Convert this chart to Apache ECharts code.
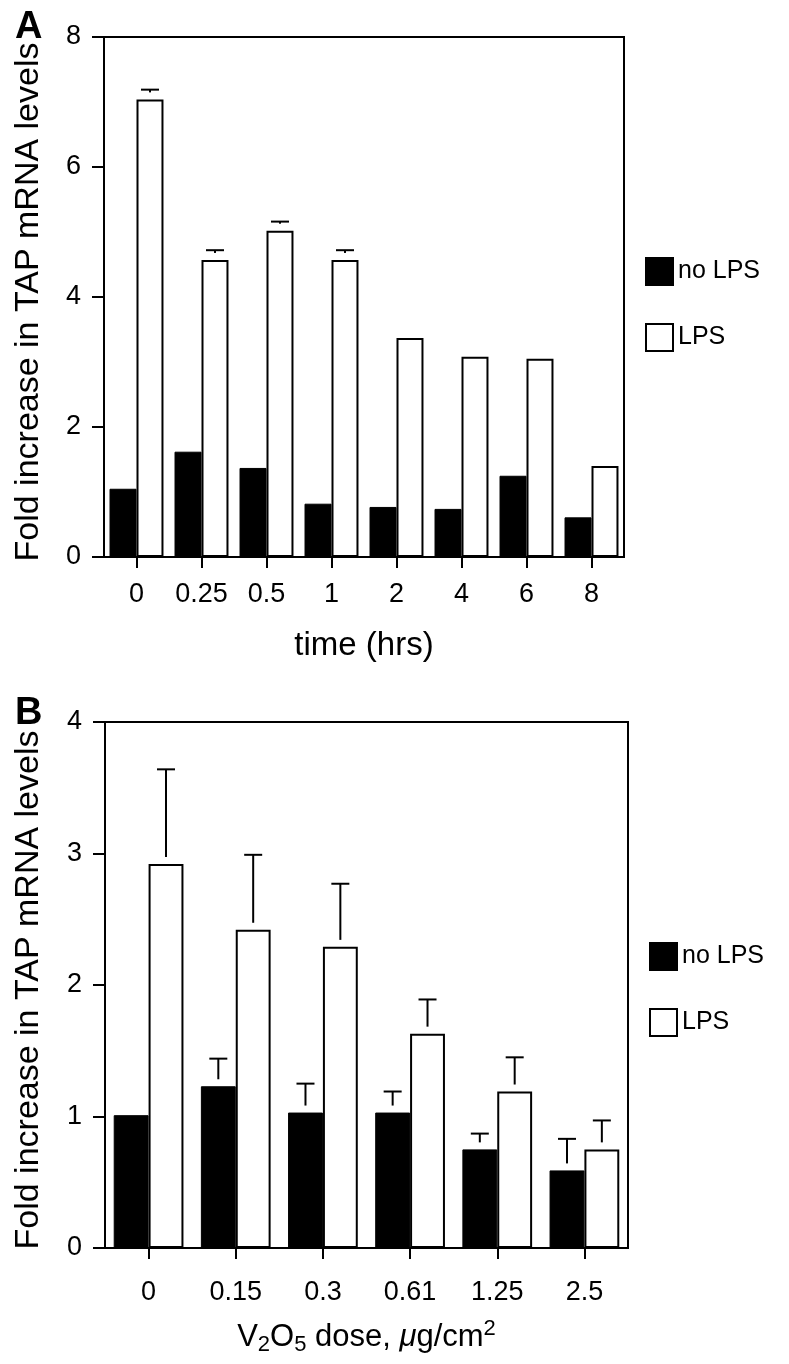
<!DOCTYPE html>
<html>
<head>
<meta charset="utf-8">
<script src="https://cdn.jsdelivr.net/npm/echarts@6/dist/echarts.min.js"></script>
<style>
html,body{margin:0;padding:0;background:#fff;}
#chart{width:789px;height:1364px;}
</style>
</head>
<body>
<div id="chart"></div>
<script>
// ---- Data ----
const catsA = ['0', '0.25', '0.5', '1', '2', '4', '6', '8'];
const noLpsA = [1.05, 1.62, 1.37, 0.82, 0.77, 0.74, 1.25, 0.61];
const lpsA = [7.04, 4.57, 5.02, 4.57, 3.37, 3.08, 3.05, 1.40];
const lpsErrA = [0.15, 0.15, 0.14, 0.15, null, null, null, null];

const catsB = ['0', '0.15', '0.3', '0.61', '1.25', '2.5'];
const noLpsB = [1.01, 1.23, 1.03, 1.03, 0.75, 0.59];
const noLpsErrB = [null, 0.21, 0.22, 0.16, 0.12, 0.24];
const lpsB = [2.92, 2.42, 2.29, 1.63, 1.19, 0.75];
const lpsErrB = [0.72, 0.57, 0.48, 0.26, 0.26, 0.22];

const yTicksA = {min: 0, max: 8, interval: 2};
const yTicksB = {min: 0, max: 4, interval: 1};
const yTitle = 'Fold increase in TAP mRNA levels';

// ---- Helpers ----
const FONT = "'Liberation Sans', Arial, Helvetica, sans-serif";
const gapA = 0.17, gapB = 0.20;

function errData(vals, errs) {
  return vals.map((v, i) => [i, v, errs[i] == null ? 0 : errs[i]]);
}
function errRenderer(gap, side) {
  return function (params, api) {
    const idx = api.value(0), v = api.value(1), e = api.value(2);
    if (!e) return null;
    const base = api.coord([idx, v]);
    const top = api.coord([idx, v + e]);
    const band = api.size([1, 0])[0];
    const bw = band * (1 - gap) / 2;
    const x = base[0] + side * bw / 2;
    const yEnd = base[1] - 7;
    const style = {stroke: '#000', lineWidth: 2};
    const children = [{
      type: 'line',
      shape: {x1: x - 9, y1: top[1], x2: x + 9, y2: top[1]},
      style: style
    }];
    if (yEnd > top[1]) {
      children.push({type: 'line', shape: {x1: x, y1: top[1], x2: x, y2: yEnd}, style: style});
    }
    return {type: 'group', children: children};
  };
}

const axisLineStyle = {show: true, lineStyle: {color: '#000', width: 2}};
const tickLabel = {color: '#000', fontSize: 27, fontFamily: FONT};

function xAxis(gridIndex, cats, name, nameStyle, labelMargin, nameGap) {
  return {
    type: 'category', gridIndex: gridIndex, data: cats,
    axisLine: axisLineStyle,
    axisTick: {show: true, alignWithLabel: true, inside: false, length: 11, lineStyle: {color: '#000', width: 2}},
    axisLabel: Object.assign({margin: labelMargin, interval: 0}, tickLabel),
    name: name, nameLocation: 'middle', nameGap: nameGap,
    nameTextStyle: nameStyle
  };
}
function yAxis(gridIndex, t) {
  return {
    type: 'value', gridIndex: gridIndex, min: t.min, max: t.max, interval: t.interval,
    axisLine: axisLineStyle,
    axisTick: {show: true, inside: false, length: 12, lineStyle: {color: '#000', width: 2}},
    axisLabel: Object.assign({margin: 23}, tickLabel),
    splitLine: {show: false}
  };
}
function yTitleText(cy) {
  return {
    type: 'text', x: 29, y: cy, rotation: Math.PI / 2,
    style: {text: yTitle, fill: '#000', fontSize: 34, fontFamily: FONT, textAlign: 'center', textVerticalAlign: 'middle'}
  };
}

const chart = echarts.init(document.getElementById('chart'), null, {renderer: 'canvas'});
chart.setOption({
  backgroundColor: '#fff',
  animation: false,
  textStyle: {fontFamily: FONT},
  title: [
    {text: 'A', left: 10, top: 4, textStyle: {fontSize: 38, fontWeight: 'bold', color: '#000', fontFamily: FONT}},
    {text: 'B', left: 10, top: 690, textStyle: {fontSize: 38, fontWeight: 'bold', color: '#000', fontFamily: FONT}}
  ],
  graphic: [yTitleText(302), yTitleText(990)],
  legend: [
    {data: ['no LPS', 'LPS'], orient: 'vertical', left: 640, top: 252, itemWidth: 27, itemHeight: 27, itemGap: 37,
     icon: 'rect', textStyle: {fontSize: 25, color: '#000', fontFamily: FONT}, selectedMode: false},
    {data: ['no LPS', 'LPS'], orient: 'vertical', left: 644, top: 937, itemWidth: 27, itemHeight: 27, itemGap: 37,
     icon: 'rect', textStyle: {fontSize: 25, color: '#000', fontFamily: FONT}, selectedMode: false}
  ],
  grid: [
    {left: 104, top: 37, width: 520, height: 520, show: true, borderColor: '#000', borderWidth: 2, containLabel: false},
    {left: 105, top: 722, width: 523, height: 526, show: true, borderColor: '#000', borderWidth: 2, containLabel: false}
  ],
  xAxis: [
    xAxis(0, catsA, 'time (hrs)', {color: '#000', fontSize: 33, fontFamily: FONT}, 24, 72),
    xAxis(1, catsB, 'V{sub|2}O{sub|5} dose, {it|μ}g/cm{sup|2}', {
      color: '#000', fontSize: 31, fontFamily: FONT,
      rich: {
        sub: {fontSize: 22, fontFamily: FONT, color: '#000', padding: [16, 0, 0, 0], verticalAlign: 'middle'},
        sup: {fontSize: 22, fontFamily: FONT, color: '#000', padding: [0, 0, 16, 0], verticalAlign: 'middle'},
        it: {fontSize: 31, fontStyle: 'italic', fontFamily: FONT, color: '#000'}
      }
    }, 31, 70)
  ],
  yAxis: [yAxis(0, yTicksA), yAxis(1, yTicksB)],
  series: [
    {name: 'no LPS', type: 'bar', xAxisIndex: 0, yAxisIndex: 0, data: noLpsA, barGap: '0%', barCategoryGap: (gapA * 100) + '%',
     itemStyle: {color: '#000', borderColor: '#000', borderWidth: 1}},
    {name: 'LPS', type: 'bar', xAxisIndex: 0, yAxisIndex: 0, data: lpsA, barGap: '0%', barCategoryGap: (gapA * 100) + '%',
     itemStyle: {color: '#fff', borderColor: '#000', borderWidth: 2}},
    {name: 'LPS err A', type: 'custom', xAxisIndex: 0, yAxisIndex: 0, data: errData(lpsA, lpsErrA),
     renderItem: errRenderer(gapA, 1), z: 5},
    {name: 'no LPS', type: 'bar', xAxisIndex: 1, yAxisIndex: 1, data: noLpsB, barGap: '0%', barCategoryGap: (gapB * 100) + '%',
     itemStyle: {color: '#000', borderColor: '#000', borderWidth: 1}},
    {name: 'LPS', type: 'bar', xAxisIndex: 1, yAxisIndex: 1, data: lpsB, barGap: '0%', barCategoryGap: (gapB * 100) + '%',
     itemStyle: {color: '#fff', borderColor: '#000', borderWidth: 2}},
    {name: 'no LPS err B', type: 'custom', xAxisIndex: 1, yAxisIndex: 1, data: errData(noLpsB, noLpsErrB),
     renderItem: errRenderer(gapB, -1), z: 5},
    {name: 'LPS err B', type: 'custom', xAxisIndex: 1, yAxisIndex: 1, data: errData(lpsB, lpsErrB),
     renderItem: errRenderer(gapB, 1), z: 5}
  ]
});
</script>
</body>
</html>
